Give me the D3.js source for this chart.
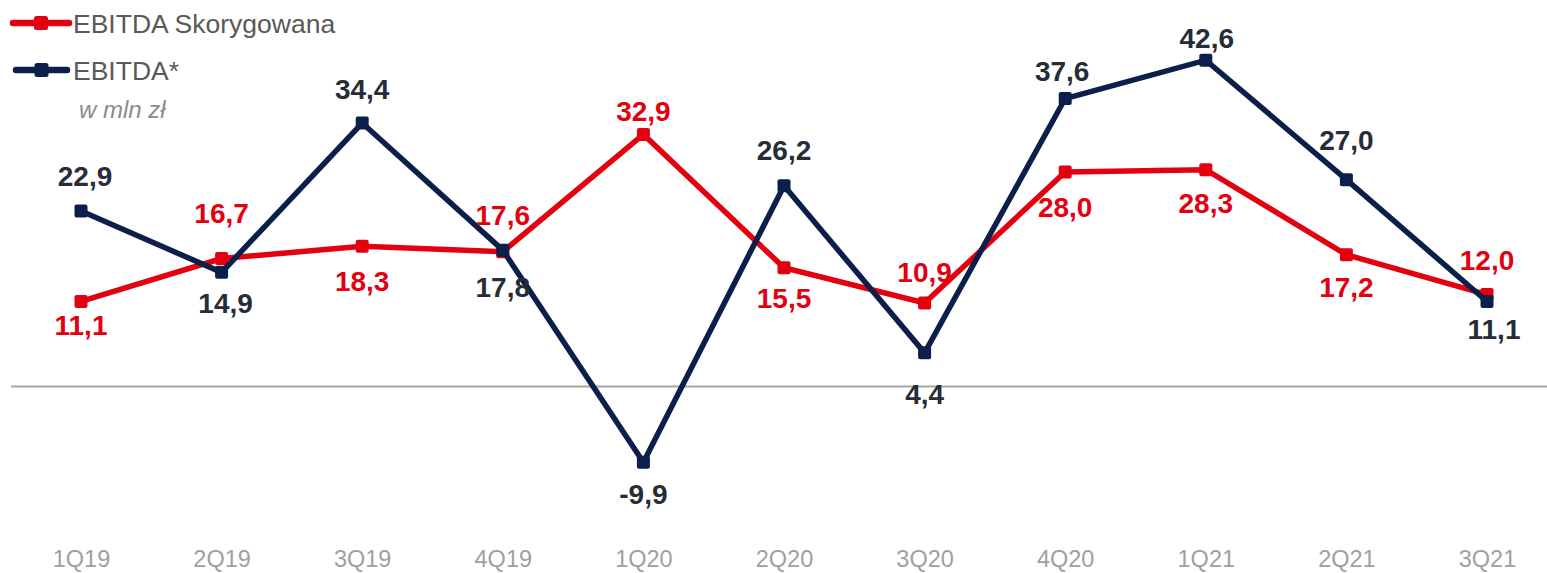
<!DOCTYPE html>
<html>
<head>
<meta charset="utf-8">
<script src="https://cdn.jsdelivr.net/npm/d3@7"></script>
<style>
  html, body { margin: 0; padding: 0; background: #fff; }
  svg { display: block; font-family: "Liberation Sans", Arial, sans-serif; }
</style>
</head>
<body>
<svg id="chart" width="1547" height="573"></svg>
<script>
// Quarterly EBITDA, mln zł
const quarters = ["1Q19", "2Q19", "3Q19", "4Q19", "1Q20", "2Q20", "3Q20", "4Q20", "1Q21", "2Q21", "3Q21"];
const ebitdaAdjusted = [11.1, 16.7, 18.3, 17.6, 32.9, 15.5, 10.9, 28.0, 28.3, 17.2, 12.0];
const ebitda = [22.9, 14.9, 34.4, 17.8, -9.9, 26.2, 4.4, 37.6, 42.6, 27.0, 11.1];
const seriesNames = ["EBITDA Skorygowana", "EBITDA*"];
const unitNote = "w mln zł";

// Label placement offsets (baseline relative to point), per series
const adjLabelDy = [34, -36, 45, -27, -13, 40, -21, 45, 43, 42, -25];
const adjLabelDx = [0, 0, 0, 0, 0, 0, 0, 0, 0, 0, 0];
const ebitdaLabelDy = [-25, 41, -24, 47, 42, -26, 51, -17, -12, -30, 38];
const ebitdaLabelDx = [4, 4, 0, 0, 0, 0, 0, -3, 1, 0, 7];

const RED = "#e3000f";
const NAVY = "#0c1f4b";
const NAVY_TEXT = "#262d38";

const svg = d3.select("#chart");

const x = d3.scalePoint().domain(quarters).range([81, 1487]);
const y = d3.scaleLinear().domain([-15, 45]).range([501.4, 41.8]);

// decimal comma, plain hyphen for negatives
const fmt = v => d3.format(".1f")(v).replace(".", ",").replace("\u2212", "-");

// zero baseline
svg.append("line")
  .attr("x1", 11).attr("x2", 1547)
  .attr("y1", y(0)).attr("y2", y(0))
  .attr("stroke", "#a6a6a6").attr("stroke-width", 2);

// category axis
const axis = svg.append("g")
  .attr("transform", `translate(0, 545)`)
  .call(d3.axisBottom(x).tickSize(0).tickPadding(0));
axis.select(".domain").remove();
axis.selectAll("text")
  .attr("dy", "0.71em")
  .attr("y", 5)
  .attr("fill", "#a0a0a0")
  .style("font-size", "23.5px")
  .style("font-family", "'Liberation Sans', Arial, sans-serif");

const line = d3.line()
  .x((d, i) => x(quarters[i]))
  .y(d => y(d));

function drawSeries(values, color) {
  const g = svg.append("g");
  g.append("path")
    .datum(values)
    .attr("d", line)
    .attr("fill", "none")
    .attr("stroke", color)
    .attr("stroke-width", 5.5)
    .attr("stroke-linejoin", "miter");
  g.selectAll("rect")
    .data(values)
    .join("rect")
    .attr("x", (d, i) => x(quarters[i]) - 6.5)
    .attr("y", d => y(d) - 6.5)
    .attr("width", 13).attr("height", 13)
    .attr("rx", 2)
    .attr("fill", color);
}

function drawLabels(values, dx, dy, color) {
  svg.append("g").selectAll("text")
    .data(values)
    .join("text")
    .attr("x", (d, i) => x(quarters[i]) + dx[i])
    .attr("y", (d, i) => y(d) + dy[i])
    .attr("text-anchor", "middle")
    .attr("fill", color)
    .style("font-size", "28px")
    .style("font-weight", "bold")
    .text(d => fmt(d));
}

drawSeries(ebitdaAdjusted, RED);
drawSeries(ebitda, NAVY);
drawLabels(ebitdaAdjusted, adjLabelDx, adjLabelDy, RED);
drawLabels(ebitda, ebitdaLabelDx, ebitdaLabelDy, NAVY_TEXT);

// legend
const legend = svg.append("g");
const legendItems = [
  { name: seriesNames[0], color: RED, x1: 13, x2: 69, y: 23 },
  { name: seriesNames[1], color: NAVY, x1: 16, x2: 67, y: 70 }
];
legendItems.forEach(item => {
  legend.append("line")
    .attr("x1", item.x1).attr("x2", item.x2)
    .attr("y1", item.y).attr("y2", item.y)
    .attr("stroke", item.color).attr("stroke-width", 6.5)
    .attr("stroke-linecap", "round");
  legend.append("rect")
    .attr("x", (item.x1 + item.x2) / 2 - 7).attr("y", item.y - 7)
    .attr("width", 14).attr("height", 14).attr("rx", 2.5)
    .attr("fill", item.color);
  legend.append("text")
    .attr("x", 73).attr("y", item.y + 9.5)
    .attr("fill", "#595959")
    .style("font-size", "26.5px")
    .text(item.name);
});
legend.append("text")
  .attr("x", 79).attr("y", 118)
  .attr("fill", "#8c8c8c")
  .style("font-size", "24px")
  .style("font-style", "italic")
  .text(unitNote);
</script>
</body>
</html>
